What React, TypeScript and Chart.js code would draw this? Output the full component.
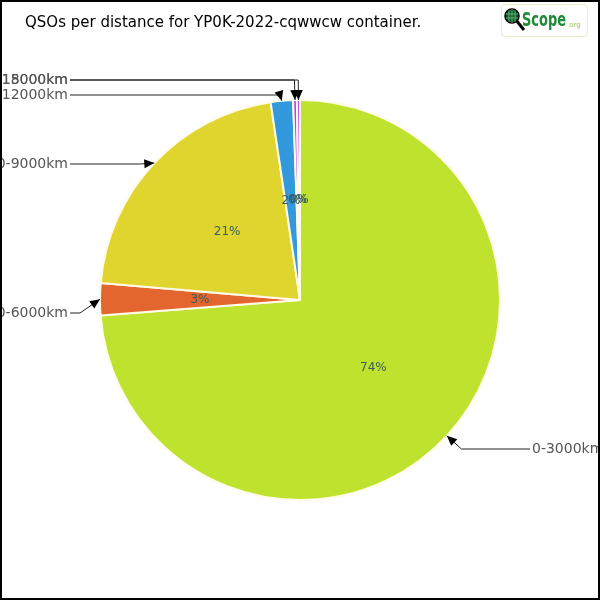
import { useEffect, useRef } from "react";
import { Chart, registerables } from "chart.js";
Chart.register(...registerables);

const TITLE = "QSOs per distance for YP0K-2022-cqwwcw container.";
const categories = ["0-3000km", "3000-6000km", "6000-9000km", "9000-12000km", "12000-15000km", "15000-18000km"];
const qsoCounts = [1476, 52, 426, 36, 6, 5];
const sliceColors = ["#bee22e", "#e2662e", "#e0d52e", "#3399dd", "#b245e0", "#c251ee"];

// label row layout (vertical placement of callout texts), styling only
const LABEL_ROWS = [449, 313, 164, 95, 80, 80];
const FONT = "'DejaVu Sans', sans-serif";

const calloutPlugin = {
  id: "callouts",
  beforeDraw(chart: any) {
    const ctx = chart.ctx;
    ctx.save();
    ctx.fillStyle = "#ffffff";
    ctx.fillRect(0, 0, chart.width, chart.height);
    ctx.restore();
  },
  afterDraw(chart: any) {
    const ctx = chart.ctx;
    const meta = chart.getDatasetMeta(0);
    const data = chart.data.datasets[0].data as number[];
    const total = data.reduce((a, b) => a + b, 0);
    ctx.save();
    // percent labels
    meta.data.forEach((arc: any, i: number) => {
      const a = (arc.startAngle + arc.endAngle) / 2;
      const r = arc.outerRadius / 2;
      ctx.fillStyle = "#3a5c5c";
      ctx.font = `12px ${FONT}`;
      ctx.textAlign = "center";
      ctx.textBaseline = "middle";
      ctx.fillText(Math.round((data[i] / total) * 100) + "%", arc.x + r * Math.cos(a), arc.y + r * Math.sin(a));
    });
    // callouts
    meta.data.forEach((arc: any, i: number) => {
      const a = (arc.startAngle + arc.endAngle) / 2;
      const R = arc.outerRadius;
      const tx = arc.x + R * Math.cos(a);
      const ty = arc.y + R * Math.sin(a);
      const ex = arc.x + (R + 20) * Math.cos(a);
      const ey = LABEL_ROWS[i];
      const right = Math.cos(a) > 0.05;
      const endX = right ? 530 : 70;
      ctx.strokeStyle = "#222";
      ctx.lineWidth = 1;
      ctx.beginPath();
      ctx.moveTo(endX, ey);
      ctx.lineTo(ex, ey);
      ctx.lineTo(tx, ty);
      ctx.stroke();
      // arrowhead
      let dx = tx - ex, dy = ty - ey;
      const len = Math.hypot(dx, dy) || 1;
      dx /= len; dy /= len;
      const L = 10, W = 4.5;
      ctx.fillStyle = "#000";
      ctx.beginPath();
      ctx.moveTo(tx, ty);
      ctx.lineTo(tx - dx * L - dy * W, ty - dy * L + dx * W);
      ctx.lineTo(tx - dx * L + dy * W, ty - dy * L - dx * W);
      ctx.closePath();
      ctx.fill();
      ctx.fillStyle = "#555";
      ctx.font = `14px ${FONT}`;
      ctx.textBaseline = "middle";
      ctx.textAlign = right ? "left" : "right";
      ctx.fillText(categories[i], right ? endX + 2 : endX - 2, ey);
    });
    // title
    ctx.fillStyle = "#000";
    ctx.font = `15px ${FONT}`;
    ctx.textAlign = "left";
    ctx.textBaseline = "middle";
    ctx.fillText(TITLE, 25, 23);
    // logo
    ctx.strokeStyle = "#e4eec8";
    ctx.lineWidth = 1;
    ctx.beginPath();
    ctx.roundRect(501.5, 4.5, 86, 32, 4);
    ctx.stroke();
    ctx.strokeStyle = "#000";
    ctx.lineWidth = 3;
    ctx.beginPath();
    ctx.moveTo(516, 20);
    ctx.lineTo(524, 30);
    ctx.stroke();
    ctx.fillStyle = "#0f5a2a";
    ctx.beginPath();
    ctx.arc(512, 16, 7, 0, Math.PI * 2);
    ctx.fill();
    ctx.strokeStyle = "#000";
    ctx.lineWidth = 1.5;
    ctx.stroke();
    ctx.strokeStyle = "#6fc080";
    ctx.lineWidth = 0.8;
    ctx.beginPath();
    ctx.moveTo(509, 10); ctx.lineTo(509, 22);
    ctx.moveTo(512, 9); ctx.lineTo(512, 23);
    ctx.moveTo(515, 10); ctx.lineTo(515, 22);
    ctx.moveTo(506, 14); ctx.lineTo(518, 14);
    ctx.moveTo(506, 18); ctx.lineTo(518, 18);
    ctx.stroke();
    ctx.save();
    ctx.translate(522, 26);
    ctx.scale(0.72, 1.1);
    ctx.fillStyle = "#1f8a3a";
    ctx.font = `bold 18px ${FONT}`;
    ctx.textAlign = "left";
    ctx.textBaseline = "alphabetic";
    ctx.fillText("Scope", 0, 0);
    ctx.restore();
    ctx.fillStyle = "#9cc468";
    ctx.font = `7px ${FONT}`;
    ctx.textAlign = "left";
    ctx.textBaseline = "alphabetic";
    ctx.fillText(".org", 567, 27);
    // frame
    ctx.strokeStyle = "#000";
    ctx.lineWidth = 2;
    ctx.strokeRect(1, 1, chart.width - 2, chart.height - 2);
    ctx.restore();
  },
};

export default function App() {
  const ref = useRef<HTMLCanvasElement>(null);
  useEffect(() => {
    document.body.style.margin = "0";
    const chart = new Chart(ref.current!, {
      type: "pie",
      data: {
        labels: categories,
        datasets: [
          {
            data: qsoCounts,
            backgroundColor: sliceColors,
            borderColor: "#fffbe6",
            borderWidth: 2,
          },
        ],
      },
      options: {
        responsive: false,
        animation: false,
        layout: { padding: 99 },
        plugins: { legend: { display: false }, title: { display: false }, tooltip: { enabled: false } },
      },
      plugins: [calloutPlugin],
    });
    return () => chart.destroy();
  }, []);
  return <canvas ref={ref} width={600} height={600} style={{ display: "block", width: 600, height: 600 }} />;
}
